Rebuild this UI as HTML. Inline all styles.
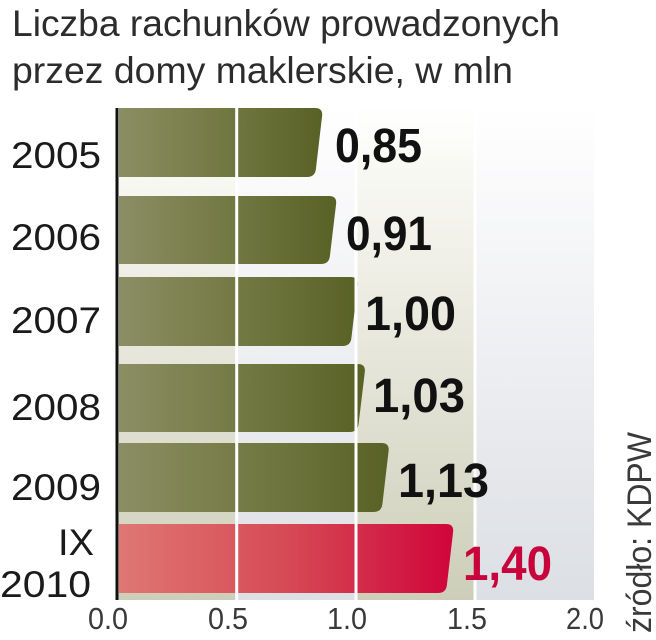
<!DOCTYPE html>
<html>
<head>
<meta charset="utf-8">
<style>
  html,body{margin:0;padding:0;background:#ffffff;}
  svg{display:block;}
  text{font-family:"Liberation Sans","DejaVu Sans",sans-serif;}
</style>
</head>
<body>
<svg width="656" height="640" viewBox="0 0 656 640" xmlns="http://www.w3.org/2000/svg">
  <defs>
    <linearGradient id="beige" gradientUnits="userSpaceOnUse" x1="0" y1="106" x2="0" y2="600">
      <stop offset="0" stop-color="#ffffff"/>
      <stop offset="0.12" stop-color="#f9f9f4"/>
      <stop offset="1" stop-color="#cdceb9"/>
    </linearGradient>
    <linearGradient id="grey" gradientUnits="userSpaceOnUse" x1="0" y1="106" x2="0" y2="600">
      <stop offset="0" stop-color="#ffffff"/>
      <stop offset="0.12" stop-color="#fbfbfc"/>
      <stop offset="1" stop-color="#dcdfe4"/>
    </linearGradient>
    <linearGradient id="olive" x1="0" y1="0" x2="1" y2="0">
      <stop offset="0" stop-color="#8b8e64"/>
      <stop offset="0.5" stop-color="#737943"/>
      <stop offset="1" stop-color="#586126"/>
    </linearGradient>
    <linearGradient id="red" x1="0" y1="0" x2="1" y2="0">
      <stop offset="0" stop-color="#df7773"/>
      <stop offset="0.5" stop-color="#d64a55"/>
      <stop offset="1" stop-color="#d0053b"/>
    </linearGradient>
  </defs>

  <!-- Title -->
  <text x="12" y="36" font-size="37" fill="#2c2c2c" textLength="548" lengthAdjust="spacingAndGlyphs">Liczba rachunków prowadzonych</text>
  <text x="12" y="83" font-size="37" fill="#2c2c2c" textLength="501" lengthAdjust="spacingAndGlyphs">przez domy maklerskie, w mln</text>

  <!-- Plot background columns -->
  <rect x="117" y="106" width="119.5" height="494" fill="url(#beige)"/>
  <rect x="236.5" y="106" width="119.5" height="494" fill="url(#grey)"/>
  <rect x="356" y="106" width="119" height="494" fill="url(#beige)"/>
  <rect x="475" y="106" width="119" height="494" fill="url(#grey)"/>

  <!-- Bars -->
  <path d="M119,108 H315 Q323,108 322.1,116 L315.9,169 Q315,177 307,177 H119Z" fill="url(#olive)"/>
  <path d="M119,196 H329 Q337,196 336.1,204 L329.9,256 Q329,264 321,264 H119Z" fill="url(#olive)"/>
  <path d="M119,277 H350.5 Q358.5,277 357.6,285 L351.4,338 Q350.5,346 342.5,346 H119Z" fill="url(#olive)"/>
  <path d="M119,364 H357.7 Q365.7,364 364.8,372 L358.6,424 Q357.7,432 349.7,432 H119Z" fill="url(#olive)"/>
  <path d="M119,443 H381.5 Q389.5,443 388.6,451 L382.4,504 Q381.5,512 373.5,512 H119Z" fill="url(#olive)"/>
  <path d="M119,524 H446 Q454,524 453.1,532 L446.9,585 Q446,593 438,593 H119Z" fill="url(#red)"/>

  <!-- Gridlines -->
  <rect x="235.2" y="106" width="3" height="494" fill="#ffffff"/>
  <rect x="354.5" y="106" width="3" height="494" fill="#ffffff"/>
  <rect x="473.5" y="106" width="3" height="494" fill="#ffffff"/>

  <!-- Axis -->
  <rect x="115.5" y="108" width="3" height="492" fill="#111111"/>

  <!-- Category labels -->
  <g font-size="37" fill="#1a1a1a">
    <text x="11" y="168" textLength="90" lengthAdjust="spacingAndGlyphs">2005</text>
    <text x="11" y="250" textLength="90" lengthAdjust="spacingAndGlyphs">2006</text>
    <text x="11" y="333" textLength="90" lengthAdjust="spacingAndGlyphs">2007</text>
    <text x="11" y="420" textLength="90" lengthAdjust="spacingAndGlyphs">2008</text>
    <text x="11" y="500" textLength="90" lengthAdjust="spacingAndGlyphs">2009</text>
    <text x="58" y="555" textLength="36" lengthAdjust="spacingAndGlyphs">IX</text>
    <text x="0" y="597" textLength="91" lengthAdjust="spacingAndGlyphs">2010</text>
  </g>

  <!-- Value labels -->
  <g font-size="48" font-weight="bold" fill="#111111">
    <text x="335" y="162" textLength="87" lengthAdjust="spacingAndGlyphs">0,85</text>
    <text x="346" y="250" textLength="86" lengthAdjust="spacingAndGlyphs">0,91</text>
    <text x="365" y="330" textLength="91" lengthAdjust="spacingAndGlyphs">1,00</text>
    <text x="373" y="412" textLength="92" lengthAdjust="spacingAndGlyphs">1,03</text>
    <text x="398" y="497" textLength="91" lengthAdjust="spacingAndGlyphs">1,13</text>
  </g>
  <text x="463" y="580" font-size="48" font-weight="bold" fill="#c8043c" textLength="89" lengthAdjust="spacingAndGlyphs">1,40</text>

  <!-- Tick labels -->
  <g font-size="31" fill="#3a3a3a">
    <text x="88" y="629" textLength="40" lengthAdjust="spacingAndGlyphs">0.0</text>
    <text x="208" y="629" textLength="40" lengthAdjust="spacingAndGlyphs">0.5</text>
    <text x="327" y="629" textLength="40" lengthAdjust="spacingAndGlyphs">1.0</text>
    <text x="447" y="629" textLength="40" lengthAdjust="spacingAndGlyphs">1.5</text>
    <text x="566" y="629" textLength="38" lengthAdjust="spacingAndGlyphs">2.0</text>
  </g>

  <!-- Source -->
  <text transform="translate(651,633) rotate(-90)" font-size="34" fill="#3a3a3a" textLength="201" lengthAdjust="spacingAndGlyphs">źródło: KDPW</text>
</svg>
</body>
</html>
